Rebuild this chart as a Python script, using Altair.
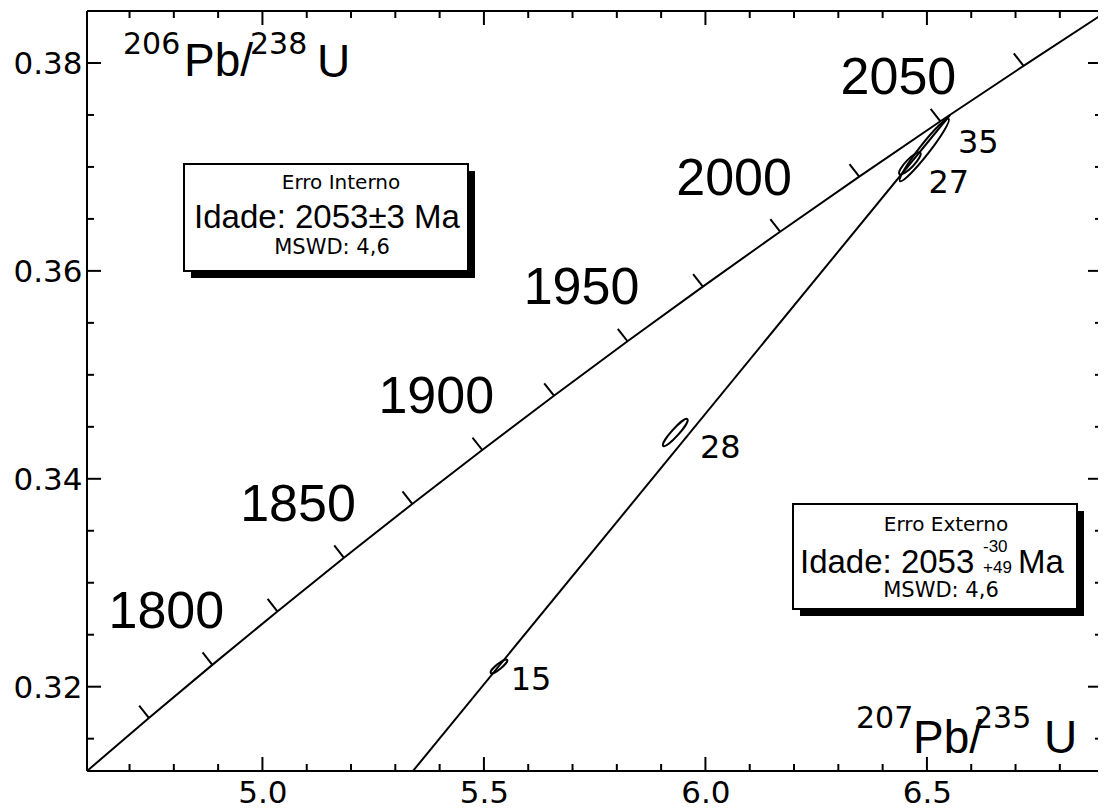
import altair as alt
import pandas as pd

FONT = "Liberation Sans"
SMALL = "DejaVu Sans"

# ---------------- data ----------------
# Wetherill concordia, points every 25 Ma
conc_age = [1750, 1775, 1800, 1825, 1850, 1875, 1900, 1925, 1950, 1975, 2000, 2025, 2050, 2075, 2100]
conc_x = [4.6040, 4.7437, 4.8869, 5.0337, 5.1841, 5.3382, 5.4962, 5.6581, 5.8241, 5.9942,
          6.1685, 6.3472, 6.5304, 6.7181, 6.9105]
conc_y = [0.31189, 0.31699, 0.32210, 0.32724, 0.33240, 0.33758, 0.34277, 0.34799, 0.35323, 0.35849,
          0.36377, 0.36907, 0.37439, 0.37972, 0.38509]

# discordia (lower plot edge -> upper intercept at 2053 Ma)
disc_x = [5.340, 6.5526]
disc_y = [0.3119, 0.37502]

# analysed spots (ellipse centres)
spot_id = ["15", "28", "27", "35"]
spot_x = [5.534, 5.932, 6.4615, 6.494]
spot_y = [0.32195, 0.34445, 0.37034, 0.37163]

# axis ticks
x_major = [5.0, 5.5, 6.0, 6.5]
x_minor = [4.7, 4.8, 4.9, 5.1, 5.2, 5.3, 5.4, 5.6, 5.7, 5.8, 5.9, 6.1, 6.2, 6.3, 6.4, 6.6, 6.7, 6.8]
y_major = [0.32, 0.34, 0.36, 0.38]
y_minor = [0.315, 0.325, 0.33, 0.335, 0.345, 0.35, 0.355, 0.365, 0.37, 0.375]

# ---------------- styling ----------------
W, H = 1011, 760
MAJ, MIN = 14, 7
R_MAJ, R_MIN = 10, 3          # right-hand ticks (frame is cut at the picture edge)
# error-ellipse drawing geometry (pixels): long axis, width/length ratio, tilt in degrees
ELL = {"15": (21, 0.25, 39), "28": (36, 0.20, 48), "27": (30, 0.27, 46), "35": (79, 0.13, 52)}
# spot label offsets (dx, dy) from the ellipse centre
SPOT_OFF = {"15": (32, 24), "28": (45, 25), "27": (39, 30), "35": (54, 3)}


def ellipse_path(r):
    k = 0.5523
    return (f"M1,0C1,{k*r:.4f} {k:.4f},{r:.4f} 0,{r:.4f}"
            f"C{-k:.4f},{r:.4f} -1,{k*r:.4f} -1,0"
            f"C-1,{-k*r:.4f} {-k:.4f},{-r:.4f} 0,{-r:.4f}"
            f"C{k:.4f},{-r:.4f} 1,{-k*r:.4f} 1,0Z")


conc = pd.DataFrame({"age": conc_age, "x": conc_x, "y": conc_y})
disc = pd.DataFrame({"x": disc_x, "y": disc_y})
spots = pd.DataFrame({"id": spot_id, "x": spot_x, "y": spot_y})
spots["shape"] = [ellipse_path(ELL[i][1]) for i in spot_id]
spots["size"] = [ELL[i][0] ** 2 for i in spot_id]
spots["angle"] = [360 - ELL[i][2] for i in spot_id]

xs = alt.Scale(domain=[4.604, 4.604 + W / 443.0], nice=False, zero=False)
ys = alt.Scale(domain=[0.31189, 0.385], nice=False, zero=False)
xax = alt.Axis(values=x_major, format=".1f", ticks=False, domain=False, grid=False,
               labelFont=SMALL, labelFontSize=31, labelColor="black", labelPadding=7, title=None)
yax = alt.Axis(values=y_major, format=".2f", ticks=False, domain=False, grid=False,
               labelFont=SMALL, labelFontSize=31, labelColor="black", labelPadding=5, labelOffset=2,
               minExtent=75, maxExtent=75, title=None)


def X(f):
    return alt.X(f, type="quantitative", scale=xs, axis=xax)


def Y(f):
    return alt.Y(f, type="quantitative", scale=ys, axis=yax)


layers = []
one = pd.DataFrame({"k": [0]})

# frame (left, top, bottom)
layers.append(alt.Chart(one).mark_rule(color="black", strokeWidth=2).encode(
    x=alt.value(0), y=alt.value(0), y2=alt.value(H)))
layers.append(alt.Chart(one).mark_rule(color="black", strokeWidth=2).encode(
    x=alt.value(0), x2=alt.value(W), y=alt.value(0)))
layers.append(alt.Chart(one).mark_rule(color="black", strokeWidth=2).encode(
    x=alt.value(0), x2=alt.value(W), y=alt.value(H)))

# concordia curve
layers.append(alt.Chart(conc).mark_line(color="black", strokeWidth=2, clip=True).encode(
    x=X("x"), y=Y("y"), order="age:Q"))
# discordia
layers.append(alt.Chart(disc).mark_line(color="black", strokeWidth=2, clip=True).encode(
    x=X("x"), y=Y("y")))
# concordia age ticks
layers.append(alt.Chart(conc).transform_filter("datum.age > 1750 && datum.age < 2100").mark_point(
    shape="M0,0L0,-1", size=1000, angle=322, filled=False, color="black", strokeWidth=2, opacity=1
).encode(x=X("x"), y=Y("y")))
# age labels
layers.append(alt.Chart(conc).transform_filter(
    "datum.age >= 1800 && datum.age <= 2000 && datum.age % 50 == 0").mark_text(
    font=FONT, fontSize=52, color="black", align="center", baseline="alphabetic", dx=-46, dy=-37
).encode(x=X("x"), y=Y("y"), text="age:N"))
layers.append(alt.Chart(conc).transform_filter("datum.age == 2050").mark_text(
    font=FONT, fontSize=52, color="black", align="center", baseline="alphabetic", dx=-42, dy=-27
).encode(x=X("x"), y=Y("y"), text="age:N"))
# error ellipses
layers.append(alt.Chart(spots).mark_point(filled=False, color="black", strokeWidth=2, opacity=1).encode(
    x=X("x"), y=Y("y"),
    shape=alt.Shape("shape:N", scale=None),
    size=alt.Size("size:Q", scale=None),
    angle=alt.Angle("angle:Q", scale=None)))
# spot labels
for sid in spot_id:
    dx, dy = SPOT_OFF[sid]
    layers.append(alt.Chart(spots).transform_filter(f"datum.id == '{sid}'").mark_text(
        font=SMALL, fontSize=32, color="black", align="center", baseline="alphabetic", dx=dx, dy=dy
    ).encode(x=X("x"), y=Y("y"), text="id:N"))

# frame ticks (pointing inward)
for vals, ln in ((x_major, MAJ), (x_minor, MIN)):
    d = pd.DataFrame({"v": vals})
    layers.append(alt.Chart(d).mark_rule(color="black", strokeWidth=2).encode(
        x=X("v"), y=alt.value(0), y2=alt.value(ln)))
    layers.append(alt.Chart(d).mark_rule(color="black", strokeWidth=2).encode(
        x=X("v"), y=alt.value(H), y2=alt.value(H - ln)))
for vals, ln, rln in ((y_major, MAJ, R_MAJ), (y_minor, MIN, R_MIN)):
    d = pd.DataFrame({"v": vals})
    layers.append(alt.Chart(d).mark_rule(color="black", strokeWidth=2).encode(
        y=Y("v"), x=alt.value(0), x2=alt.value(ln)))
    layers.append(alt.Chart(d).mark_rule(color="black", strokeWidth=2).encode(
        y=Y("v"), x=alt.value(W), x2=alt.value(W - rln)))


def box(x1, y1, x2, y2, off=7):
    sh = alt.Chart(one).mark_rect(fill="black").encode(
        x=alt.value(x1 + off), x2=alt.value(x2 + off), y=alt.value(y1 + off), y2=alt.value(y2 + off))
    bx = alt.Chart(one).mark_rect(fill="white", stroke="black", strokeWidth=2).encode(
        x=alt.value(x1), x2=alt.value(x2), y=alt.value(y1), y2=alt.value(y2))
    return [sh, bx]


def txt(s, x, y, size, align="left", font=FONT):
    return alt.Chart(one).mark_text(text=s, font=font, fontSize=size, color="black",
                                    align=align, baseline="alphabetic").encode(
        x=alt.value(x), y=alt.value(y))


# result boxes
layers += box(97, 153, 381, 260)
layers += [
    txt("Erro Interno", 254, 178, 20, "center", SMALL),
    txt("Idade: 2053±3 Ma", 240, 217, 33, "center"),
    txt("MSWD: 4,6", 245, 243, 21, "center", SMALL),
]
layers += box(706, 493, 990, 598)
layers += [
    txt("Erro Externo", 859, 520, 20, "center", SMALL),
    txt("Idade: 2053", 713, 562, 33),
    txt("-30", 896, 541, 17),
    txt("+49", 896, 562, 17),
    txt("Ma", 931, 562, 33),
    txt("MSWD: 4,6", 854, 586, 21, "center", SMALL),
]

# axis titles inside the plot
layers += [
    txt("206", 36, 43, 30, font=SMALL), txt("Pb/", 97, 65, 46),
    txt("238", 163, 43, 30, font=SMALL), txt("U", 230, 66, 46),
    txt("207", 769, 717, 30, font=SMALL), txt("Pb/", 826, 742, 46),
    txt("235", 887, 717, 30, font=SMALL), txt("U", 957, 742, 46),
]

chart = alt.layer(*layers).properties(
    width=W, height=H,
    padding={"left": 4, "top": 2, "right": 0, "bottom": 0},
    background="white",
).configure_view(stroke=None)

chart.save("out.html", embed_options={"renderer": "svg", "actions": False})
